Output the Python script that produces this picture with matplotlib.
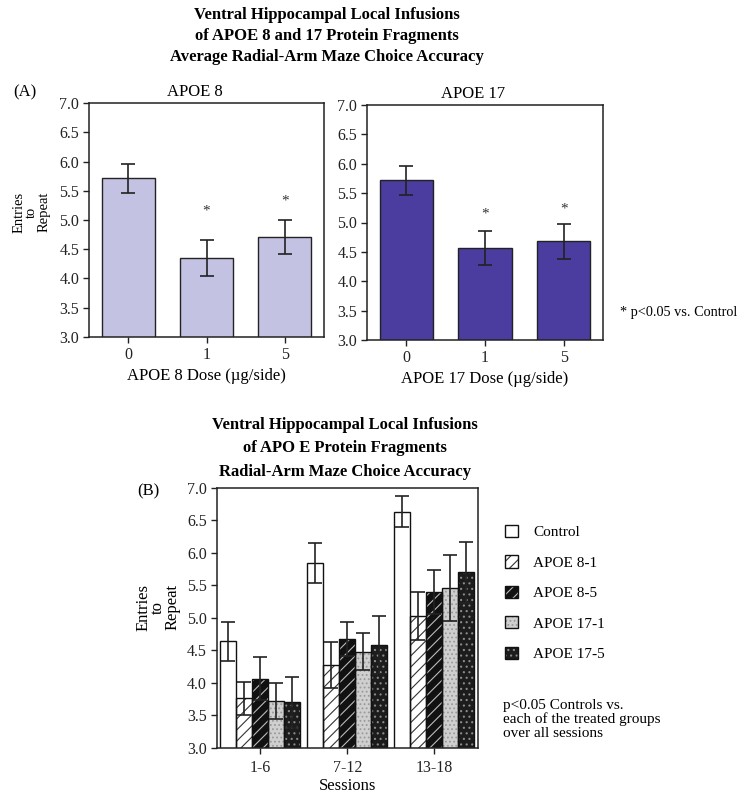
import numpy as np
import matplotlib
matplotlib.use("Agg")
import matplotlib.pyplot as plt
from matplotlib.patches import Patch

plt.rcParams["font.family"] = ["Liberation Serif", "DejaVu Serif"]
plt.rcParams["hatch.linewidth"] = 0.8

W, H = 745, 798

# panel A data
doses = ["0", "1", "5"]
apoe8_mean = [5.71, 4.35, 4.71]
apoe8_err = [0.25, 0.30, 0.29]
apoe8_star = [None, 5.15, 5.32]
apoe17_mean = [5.72, 4.56, 4.68]
apoe17_err = [0.25, 0.29, 0.30]
apoe17_star = [None, 5.14, 5.23]

# panel B data
sessions = ["1-6", "7-12", "13-18"]
groups = ["Control", "APOE 8-1", "APOE 8-5", "APOE 17-1", "APOE 17-5"]
means_b = {
    "Control":   [4.64, 5.84, 6.63],
    "APOE 8-1":  [3.76, 4.27, 5.02],
    "APOE 8-5":  [4.06, 4.67, 5.39],
    "APOE 17-1": [3.72, 4.48, 5.46],
    "APOE 17-5": [3.70, 4.58, 5.70],
}
errs_b = {
    "Control":   [0.30, 0.31, 0.24],
    "APOE 8-1":  [0.25, 0.35, 0.37],
    "APOE 8-5":  [0.33, 0.26, 0.34],
    "APOE 17-1": [0.28, 0.28, 0.51],
    "APOE 17-5": [0.39, 0.45, 0.47],
}
# (face, hatch, hatch colour)
styles_b = {
    "Control":   ("white", None, "black"),
    "APOE 8-1":  ("white", "///", "#333333"),
    "APOE 8-5":  ("#111111", "///", "#bbbbbb"),
    "APOE 17-1": ("#cfcfcf", "....", "#9a9a9a"),
    "APOE 17-5": ("#1c1c1c", "...", "#8a8a8a"),
}


def fx(x):
    return x / W


def fy(y):
    return 1 - y / H


def style_axes(ax):
    ax.set_ylim(3.0, 7.0)
    ax.set_yticks(np.arange(3.0, 7.01, 0.5))
    ax.set_yticklabels([f"{v:.1f}" for v in np.arange(3.0, 7.01, 0.5)])
    ax.tick_params(direction="out", length=4, width=1, labelsize=11.5, colors="#222222", pad=3)
    for s in ax.spines.values():
        s.set_linewidth(1.1)
        s.set_color("#222222")


fig = plt.figure(figsize=(W / 100, H / 100), dpi=100)

# ---- panel A
ax1 = fig.add_axes([fx(89), fy(337), fx(235), 234 / H])
ax2 = fig.add_axes([fx(367), fy(340), fx(236), 235 / H])

for ax, m, e, st, col, ttl, xl in [
    (ax1, apoe8_mean, apoe8_err, apoe8_star, "#c4c2e2", "APOE 8", "APOE 8 Dose (\u00b5g/side)"),
    (ax2, apoe17_mean, apoe17_err, apoe17_star, "#4b3d9f", "APOE 17", "APOE 17 Dose (\u00b5g/side)"),
]:
    x = np.arange(len(doses))
    ax.bar(x, m, width=0.68, bottom=0, color=col, edgecolor="#222222", linewidth=1.0, zorder=2)
    ax.errorbar(x, m, yerr=e, fmt="none", ecolor="#222222", elinewidth=1.2,
                capsize=5, capthick=1.2, zorder=3)
    for xi, s in zip(x, st):
        if s is not None:
            ax.text(xi, s, "*", ha="center", va="center", fontsize=11, color="#333333")
    ax.set_xlim(-0.5, 2.5)
    ax.set_xticks(x)
    ax.set_xticklabels(doses)
    style_axes(ax)
    ax.set_title(ttl, fontsize=12, x=0.45, pad=5)
    ax.set_xlabel(xl, fontsize=12, labelpad=4)

ax1.set_ylabel("Entries\nto\nRepeat", fontsize=10.5, linespacing=0.95)
ax1.yaxis.set_label_coords(-0.165, 0.534)

fig.text(fx(327), fy(15), "Ventral Hippocampal Local Infusions", ha="center", va="center",
         fontsize=12, fontweight="bold")
fig.text(fx(327), fy(36), "of APOE 8 and 17 Protein Fragments", ha="center", va="center",
         fontsize=12, fontweight="bold")
fig.text(fx(327), fy(57), "Average Radial-Arm Maze Choice Accuracy", ha="center", va="center",
         fontsize=12, fontweight="bold")
fig.text(fx(13), fy(92), "(A)", ha="left", va="center", fontsize=12)
fig.text(fx(620), fy(313), "* p<0.05 vs. Control", ha="left", va="center", fontsize=10.3)

# ---- panel B
axb = fig.add_axes([fx(216.7), fy(747.7), fx(261), 260 / H])
xb = np.arange(len(sessions))
bw = 0.184
handles = []
for i, g in enumerate(groups):
    pos = xb + (i - 2) * bw
    face, hatch, hcol = styles_b[g]
    axb.bar(pos, means_b[g], width=bw, color=face, edgecolor=hcol, hatch=hatch,
            linewidth=0, zorder=2)
    axb.bar(pos, means_b[g], width=bw, color="none", edgecolor="#111111",
            linewidth=1.0, zorder=2.5)
    axb.errorbar(pos, means_b[g], yerr=errs_b[g], fmt="none", ecolor="#222222",
                 elinewidth=1.2, capsize=5, capthick=1.2, zorder=3)
    handles.append((Patch(facecolor=face, edgecolor=hcol, hatch=hatch, linewidth=0),
                    Patch(facecolor="none", edgecolor="#111111", linewidth=1.0)))
axb.set_xlim(-0.5, 2.5)
axb.set_xticks(xb)
axb.set_xticklabels(sessions)
style_axes(axb)
axb.tick_params(axis="x", pad=5)
axb.set_xlabel("Sessions", fontsize=12, labelpad=1)
axb.set_ylabel("Entries\nto\nRepeat", fontsize=12, linespacing=0.85)
axb.yaxis.set_label_coords(-0.14, 0.54)

fig.legend(handles, groups, loc="upper left", bbox_to_anchor=(fx(505), fy(525)),
           frameon=False, fontsize=11, handlelength=0.85, handleheight=0.85,
           handletextpad=1.0, labelspacing=1.05, borderaxespad=0, borderpad=0)

fig.text(fx(345), fy(425), "Ventral Hippocampal Local Infusions", ha="center", va="center",
         fontsize=12, fontweight="bold")
fig.text(fx(345), fy(448), "of APO E Protein Fragments", ha="center", va="center",
         fontsize=12, fontweight="bold")
fig.text(fx(345), fy(472), "Radial-Arm Maze Choice Accuracy", ha="center", va="center",
         fontsize=12, fontweight="bold")
fig.text(fx(137), fy(491), "(B)", ha="left", va="center", fontsize=12)
fig.text(fx(503), fy(699), "p<0.05 Controls vs.\neach of the treated groups\nover all sessions",
         ha="left", va="top", fontsize=11, linespacing=1.05)

fig.savefig("out.png", dpi=100)
